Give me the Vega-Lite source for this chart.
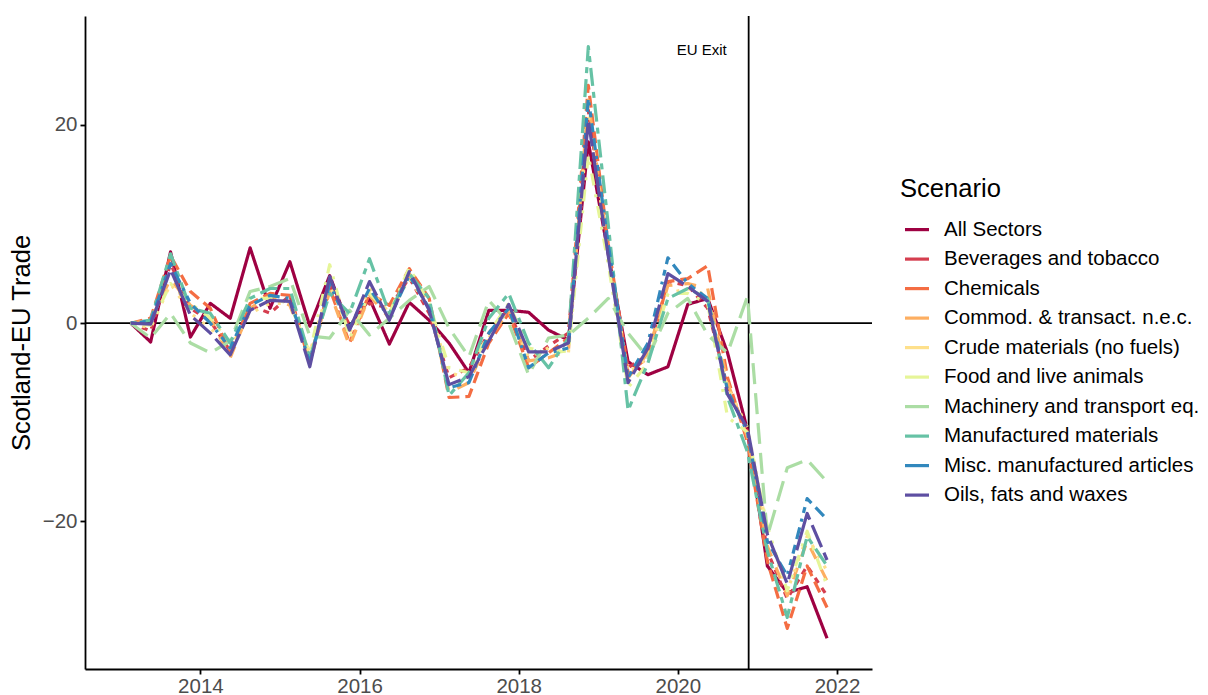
{
 "$schema": "https://vega.github.io/schema/vega-lite/v6.json",
 "width": 787,
 "height": 653,
 "autosize": "none",
 "padding": {"left": 85, "top": 16, "right": 336, "bottom": 26},
 "background": "white",
 "config": {"font": "Liberation Sans", "view": {"stroke": null},
  "axisX": {"grid": false, "labelFontSize": 20.5, "labelColor": "#4D4D4D", "labelPadding": 2, "domainColor": "black", "domainWidth": 1.8, "tickColor": "black", "tickWidth": 1.8, "tickSize": 5},
  "axisY": {"grid": false, "labelFontSize": 20.5, "labelColor": "#4D4D4D", "labelPadding": 3, "domainColor": "black", "domainWidth": 1.8, "tickColor": "black", "tickWidth": 1.8, "tickSize": 5, "titleFontSize": 25.6, "titleFontWeight": "normal", "titleColor": "black", "titlePadding": 8}
 },
 "datasets": {
  "trade": [
   {"t":2013.125,"s":"All Sectors","v":0},{"t":2013.375,"s":"All Sectors","v":-1.9},{"t":2013.625,"s":"All Sectors","v":7.2},{"t":2013.875,"s":"All Sectors","v":-1.4},{"t":2014.125,"s":"All Sectors","v":2.0},{"t":2014.375,"s":"All Sectors","v":0.5},{"t":2014.625,"s":"All Sectors","v":7.6},{"t":2014.875,"s":"All Sectors","v":1.5},{"t":2015.125,"s":"All Sectors","v":6.2},{"t":2015.375,"s":"All Sectors","v":-0.3},{"t":2015.625,"s":"All Sectors","v":4.8},{"t":2015.875,"s":"All Sectors","v":-0.5},{"t":2016.125,"s":"All Sectors","v":2.5},{"t":2016.375,"s":"All Sectors","v":-2.1},{"t":2016.625,"s":"All Sectors","v":2.1},{"t":2016.875,"s":"All Sectors","v":0.3},{"t":2017.125,"s":"All Sectors","v":-2.0},{"t":2017.375,"s":"All Sectors","v":-5.0},{"t":2017.625,"s":"All Sectors","v":1.3},{"t":2017.875,"s":"All Sectors","v":1.3},{"t":2018.125,"s":"All Sectors","v":1.1},{"t":2018.375,"s":"All Sectors","v":-0.7},{"t":2018.625,"s":"All Sectors","v":-1.7},{"t":2018.875,"s":"All Sectors","v":18.3},{"t":2019.125,"s":"All Sectors","v":7.0},{"t":2019.375,"s":"All Sectors","v":-3.9},{"t":2019.625,"s":"All Sectors","v":-5.2},{"t":2019.875,"s":"All Sectors","v":-4.4},{"t":2020.125,"s":"All Sectors","v":1.9},{"t":2020.375,"s":"All Sectors","v":2.5},{"t":2020.625,"s":"All Sectors","v":-3.0},{"t":2020.875,"s":"All Sectors","v":-10.8},{"t":2021.125,"s":"All Sectors","v":-24.5},{"t":2021.375,"s":"All Sectors","v":-27.2},{"t":2021.625,"s":"All Sectors","v":-26.6},{"t":2021.875,"s":"All Sectors","v":-31.8},
   {"t":2013.125,"s":"Beverages and tobacco","v":0},{"t":2013.375,"s":"Beverages and tobacco","v":-0.8},{"t":2013.625,"s":"Beverages and tobacco","v":6.0},{"t":2013.875,"s":"Beverages and tobacco","v":1.5},{"t":2014.125,"s":"Beverages and tobacco","v":0.2},{"t":2014.375,"s":"Beverages and tobacco","v":-2.8},{"t":2014.625,"s":"Beverages and tobacco","v":1.8},{"t":2014.875,"s":"Beverages and tobacco","v":1.0},{"t":2015.125,"s":"Beverages and tobacco","v":2.8},{"t":2015.375,"s":"Beverages and tobacco","v":-3.8},{"t":2015.625,"s":"Beverages and tobacco","v":3.8},{"t":2015.875,"s":"Beverages and tobacco","v":-0.2},{"t":2016.125,"s":"Beverages and tobacco","v":2.0},{"t":2016.375,"s":"Beverages and tobacco","v":1.5},{"t":2016.625,"s":"Beverages and tobacco","v":4.6},{"t":2016.875,"s":"Beverages and tobacco","v":1.0},{"t":2017.125,"s":"Beverages and tobacco","v":-5.5},{"t":2017.375,"s":"Beverages and tobacco","v":-4.5},{"t":2017.625,"s":"Beverages and tobacco","v":-1.0},{"t":2017.875,"s":"Beverages and tobacco","v":1.5},{"t":2018.125,"s":"Beverages and tobacco","v":-3.8},{"t":2018.375,"s":"Beverages and tobacco","v":-2.3},{"t":2018.625,"s":"Beverages and tobacco","v":-1.0},{"t":2018.875,"s":"Beverages and tobacco","v":21.5},{"t":2019.125,"s":"Beverages and tobacco","v":7.5},{"t":2019.375,"s":"Beverages and tobacco","v":-4.5},{"t":2019.625,"s":"Beverages and tobacco","v":-3.2},{"t":2019.875,"s":"Beverages and tobacco","v":4.2},{"t":2020.125,"s":"Beverages and tobacco","v":3.8},{"t":2020.375,"s":"Beverages and tobacco","v":1.5},{"t":2020.625,"s":"Beverages and tobacco","v":-6.5},{"t":2020.875,"s":"Beverages and tobacco","v":-11.0},{"t":2021.125,"s":"Beverages and tobacco","v":-23.0},{"t":2021.375,"s":"Beverages and tobacco","v":-27.8},{"t":2021.625,"s":"Beverages and tobacco","v":-24.5},{"t":2021.875,"s":"Beverages and tobacco","v":-27.5},
   {"t":2013.125,"s":"Chemicals","v":0},{"t":2013.375,"s":"Chemicals","v":0.5},{"t":2013.625,"s":"Chemicals","v":6.8},{"t":2013.875,"s":"Chemicals","v":3.2},{"t":2014.125,"s":"Chemicals","v":1.5},{"t":2014.375,"s":"Chemicals","v":-3.0},{"t":2014.625,"s":"Chemicals","v":2.0},{"t":2014.875,"s":"Chemicals","v":3.0},{"t":2015.125,"s":"Chemicals","v":2.8},{"t":2015.375,"s":"Chemicals","v":-4.0},{"t":2015.625,"s":"Chemicals","v":3.5},{"t":2015.875,"s":"Chemicals","v":-2.0},{"t":2016.125,"s":"Chemicals","v":3.0},{"t":2016.375,"s":"Chemicals","v":1.8},{"t":2016.625,"s":"Chemicals","v":5.5},{"t":2016.875,"s":"Chemicals","v":2.5},{"t":2017.125,"s":"Chemicals","v":-7.5},{"t":2017.375,"s":"Chemicals","v":-7.4},{"t":2017.625,"s":"Chemicals","v":-2.0},{"t":2017.875,"s":"Chemicals","v":1.0},{"t":2018.125,"s":"Chemicals","v":-4.5},{"t":2018.375,"s":"Chemicals","v":-3.0},{"t":2018.625,"s":"Chemicals","v":-1.5},{"t":2018.875,"s":"Chemicals","v":24.0},{"t":2019.125,"s":"Chemicals","v":8.0},{"t":2019.375,"s":"Chemicals","v":-5.0},{"t":2019.625,"s":"Chemicals","v":-3.5},{"t":2019.875,"s":"Chemicals","v":4.2},{"t":2020.125,"s":"Chemicals","v":4.5},{"t":2020.375,"s":"Chemicals","v":5.8},{"t":2020.625,"s":"Chemicals","v":-5.5},{"t":2020.875,"s":"Chemicals","v":-12.0},{"t":2021.125,"s":"Chemicals","v":-24.0},{"t":2021.375,"s":"Chemicals","v":-30.8},{"t":2021.625,"s":"Chemicals","v":-24.5},{"t":2021.875,"s":"Chemicals","v":-28.7},
   {"t":2013.125,"s":"Commod. & transact. n.e.c.","v":0},{"t":2013.375,"s":"Commod. & transact. n.e.c.","v":0.3},{"t":2013.625,"s":"Commod. & transact. n.e.c.","v":4.5},{"t":2013.875,"s":"Commod. & transact. n.e.c.","v":1.8},{"t":2014.125,"s":"Commod. & transact. n.e.c.","v":0.5},{"t":2014.375,"s":"Commod. & transact. n.e.c.","v":-3.5},{"t":2014.625,"s":"Commod. & transact. n.e.c.","v":1.5},{"t":2014.875,"s":"Commod. & transact. n.e.c.","v":2.8},{"t":2015.125,"s":"Commod. & transact. n.e.c.","v":1.8},{"t":2015.375,"s":"Commod. & transact. n.e.c.","v":-3.5},{"t":2015.625,"s":"Commod. & transact. n.e.c.","v":3.2},{"t":2015.875,"s":"Commod. & transact. n.e.c.","v":-2.3},{"t":2016.125,"s":"Commod. & transact. n.e.c.","v":2.8},{"t":2016.375,"s":"Commod. & transact. n.e.c.","v":0.5},{"t":2016.625,"s":"Commod. & transact. n.e.c.","v":5.0},{"t":2016.875,"s":"Commod. & transact. n.e.c.","v":1.8},{"t":2017.125,"s":"Commod. & transact. n.e.c.","v":-7.0},{"t":2017.375,"s":"Commod. & transact. n.e.c.","v":-6.0},{"t":2017.625,"s":"Commod. & transact. n.e.c.","v":-1.5},{"t":2017.875,"s":"Commod. & transact. n.e.c.","v":1.2},{"t":2018.125,"s":"Commod. & transact. n.e.c.","v":-3.8},{"t":2018.375,"s":"Commod. & transact. n.e.c.","v":-3.5},{"t":2018.625,"s":"Commod. & transact. n.e.c.","v":-2.8},{"t":2018.875,"s":"Commod. & transact. n.e.c.","v":22.5},{"t":2019.125,"s":"Commod. & transact. n.e.c.","v":7.0},{"t":2019.375,"s":"Commod. & transact. n.e.c.","v":-5.5},{"t":2019.625,"s":"Commod. & transact. n.e.c.","v":-3.0},{"t":2019.875,"s":"Commod. & transact. n.e.c.","v":3.8},{"t":2020.125,"s":"Commod. & transact. n.e.c.","v":4.0},{"t":2020.375,"s":"Commod. & transact. n.e.c.","v":3.5},{"t":2020.625,"s":"Commod. & transact. n.e.c.","v":-6.0},{"t":2020.875,"s":"Commod. & transact. n.e.c.","v":-11.5},{"t":2021.125,"s":"Commod. & transact. n.e.c.","v":-22.5},{"t":2021.375,"s":"Commod. & transact. n.e.c.","v":-27.5},{"t":2021.625,"s":"Commod. & transact. n.e.c.","v":-22.0},{"t":2021.875,"s":"Commod. & transact. n.e.c.","v":-26.0},
   {"t":2013.125,"s":"Crude materials (no fuels)","v":0},{"t":2013.375,"s":"Crude materials (no fuels)","v":-0.5},{"t":2013.625,"s":"Crude materials (no fuels)","v":4.0},{"t":2013.875,"s":"Crude materials (no fuels)","v":1.0},{"t":2014.125,"s":"Crude materials (no fuels)","v":-0.5},{"t":2014.375,"s":"Crude materials (no fuels)","v":-2.5},{"t":2014.625,"s":"Crude materials (no fuels)","v":1.0},{"t":2014.875,"s":"Crude materials (no fuels)","v":2.0},{"t":2015.125,"s":"Crude materials (no fuels)","v":2.0},{"t":2015.375,"s":"Crude materials (no fuels)","v":-3.0},{"t":2015.625,"s":"Crude materials (no fuels)","v":4.0},{"t":2015.875,"s":"Crude materials (no fuels)","v":-1.0},{"t":2016.125,"s":"Crude materials (no fuels)","v":3.5},{"t":2016.375,"s":"Crude materials (no fuels)","v":1.0},{"t":2016.625,"s":"Crude materials (no fuels)","v":4.5},{"t":2016.875,"s":"Crude materials (no fuels)","v":1.5},{"t":2017.125,"s":"Crude materials (no fuels)","v":-5.0},{"t":2017.375,"s":"Crude materials (no fuels)","v":-5.5},{"t":2017.625,"s":"Crude materials (no fuels)","v":-1.5},{"t":2017.875,"s":"Crude materials (no fuels)","v":1.5},{"t":2018.125,"s":"Crude materials (no fuels)","v":-3.5},{"t":2018.375,"s":"Crude materials (no fuels)","v":-2.5},{"t":2018.625,"s":"Crude materials (no fuels)","v":-3.0},{"t":2018.875,"s":"Crude materials (no fuels)","v":21.0},{"t":2019.125,"s":"Crude materials (no fuels)","v":7.0},{"t":2019.375,"s":"Crude materials (no fuels)","v":-5.0},{"t":2019.625,"s":"Crude materials (no fuels)","v":-3.5},{"t":2019.875,"s":"Crude materials (no fuels)","v":3.0},{"t":2020.125,"s":"Crude materials (no fuels)","v":3.5},{"t":2020.375,"s":"Crude materials (no fuels)","v":2.8},{"t":2020.625,"s":"Crude materials (no fuels)","v":-6.5},{"t":2020.875,"s":"Crude materials (no fuels)","v":-10.5},{"t":2021.125,"s":"Crude materials (no fuels)","v":-21.0},{"t":2021.375,"s":"Crude materials (no fuels)","v":-27.0},{"t":2021.625,"s":"Crude materials (no fuels)","v":-21.5},{"t":2021.875,"s":"Crude materials (no fuels)","v":-25.0},
   {"t":2013.125,"s":"Food and live animals","v":0},{"t":2013.375,"s":"Food and live animals","v":-0.2},{"t":2013.625,"s":"Food and live animals","v":4.0},{"t":2013.875,"s":"Food and live animals","v":2.0},{"t":2014.125,"s":"Food and live animals","v":0.5},{"t":2014.375,"s":"Food and live animals","v":-2.0},{"t":2014.625,"s":"Food and live animals","v":2.5},{"t":2014.875,"s":"Food and live animals","v":2.5},{"t":2015.125,"s":"Food and live animals","v":2.0},{"t":2015.375,"s":"Food and live animals","v":-3.0},{"t":2015.625,"s":"Food and live animals","v":5.9},{"t":2015.875,"s":"Food and live animals","v":-1.5},{"t":2016.125,"s":"Food and live animals","v":3.0},{"t":2016.375,"s":"Food and live animals","v":1.0},{"t":2016.625,"s":"Food and live animals","v":5.6},{"t":2016.875,"s":"Food and live animals","v":2.0},{"t":2017.125,"s":"Food and live animals","v":-4.5},{"t":2017.375,"s":"Food and live animals","v":-5.0},{"t":2017.625,"s":"Food and live animals","v":-1.0},{"t":2017.875,"s":"Food and live animals","v":2.0},{"t":2018.125,"s":"Food and live animals","v":-2.5},{"t":2018.375,"s":"Food and live animals","v":-3.0},{"t":2018.625,"s":"Food and live animals","v":-2.8},{"t":2018.875,"s":"Food and live animals","v":17.0},{"t":2019.125,"s":"Food and live animals","v":6.0},{"t":2019.375,"s":"Food and live animals","v":-6.5},{"t":2019.625,"s":"Food and live animals","v":-4.0},{"t":2019.875,"s":"Food and live animals","v":3.0},{"t":2020.125,"s":"Food and live animals","v":3.0},{"t":2020.375,"s":"Food and live animals","v":2.0},{"t":2020.625,"s":"Food and live animals","v":-9.5},{"t":2020.875,"s":"Food and live animals","v":-11.0},{"t":2021.125,"s":"Food and live animals","v":-20.5},{"t":2021.375,"s":"Food and live animals","v":-27.0},{"t":2021.625,"s":"Food and live animals","v":-21.0},{"t":2021.875,"s":"Food and live animals","v":-26.5},
   {"t":2013.125,"s":"Machinery and transport eq.","v":0},{"t":2013.375,"s":"Machinery and transport eq.","v":-1.5},{"t":2013.625,"s":"Machinery and transport eq.","v":1.0},{"t":2013.875,"s":"Machinery and transport eq.","v":-2.0},{"t":2014.125,"s":"Machinery and transport eq.","v":-3.0},{"t":2014.375,"s":"Machinery and transport eq.","v":-1.8},{"t":2014.625,"s":"Machinery and transport eq.","v":3.2},{"t":2014.875,"s":"Machinery and transport eq.","v":3.7},{"t":2015.125,"s":"Machinery and transport eq.","v":4.5},{"t":2015.375,"s":"Machinery and transport eq.","v":-1.3},{"t":2015.625,"s":"Machinery and transport eq.","v":-1.5},{"t":2015.875,"s":"Machinery and transport eq.","v":1.3},{"t":2016.125,"s":"Machinery and transport eq.","v":-1.2},{"t":2016.375,"s":"Machinery and transport eq.","v":0.5},{"t":2016.625,"s":"Machinery and transport eq.","v":2.3},{"t":2016.875,"s":"Machinery and transport eq.","v":3.7},{"t":2017.125,"s":"Machinery and transport eq.","v":-0.5},{"t":2017.375,"s":"Machinery and transport eq.","v":-3.4},{"t":2017.625,"s":"Machinery and transport eq.","v":2.3},{"t":2017.875,"s":"Machinery and transport eq.","v":0.0},{"t":2018.125,"s":"Machinery and transport eq.","v":-5.2},{"t":2018.375,"s":"Machinery and transport eq.","v":-1.5},{"t":2018.625,"s":"Machinery and transport eq.","v":-1.2},{"t":2018.875,"s":"Machinery and transport eq.","v":0.5},{"t":2019.125,"s":"Machinery and transport eq.","v":2.5},{"t":2019.375,"s":"Machinery and transport eq.","v":-1.0},{"t":2019.625,"s":"Machinery and transport eq.","v":-3.5},{"t":2019.875,"s":"Machinery and transport eq.","v":1.0},{"t":2020.125,"s":"Machinery and transport eq.","v":2.5},{"t":2020.375,"s":"Machinery and transport eq.","v":-1.2},{"t":2020.625,"s":"Machinery and transport eq.","v":-3.0},{"t":2020.875,"s":"Machinery and transport eq.","v":2.7},{"t":2021.125,"s":"Machinery and transport eq.","v":-21.5},{"t":2021.375,"s":"Machinery and transport eq.","v":-14.6},{"t":2021.625,"s":"Machinery and transport eq.","v":-13.8},{"t":2021.875,"s":"Machinery and transport eq.","v":-16.0},
   {"t":2013.125,"s":"Manufactured materials","v":0},{"t":2013.375,"s":"Manufactured materials","v":0.3},{"t":2013.625,"s":"Manufactured materials","v":7.0},{"t":2013.875,"s":"Manufactured materials","v":1.5},{"t":2014.125,"s":"Manufactured materials","v":1.0},{"t":2014.375,"s":"Manufactured materials","v":-2.0},{"t":2014.625,"s":"Manufactured materials","v":2.5},{"t":2014.875,"s":"Manufactured materials","v":3.5},{"t":2015.125,"s":"Manufactured materials","v":3.5},{"t":2015.375,"s":"Manufactured materials","v":-3.5},{"t":2015.625,"s":"Manufactured materials","v":3.0},{"t":2015.875,"s":"Manufactured materials","v":1.0},{"t":2016.125,"s":"Manufactured materials","v":6.5},{"t":2016.375,"s":"Manufactured materials","v":1.0},{"t":2016.625,"s":"Manufactured materials","v":5.0},{"t":2016.875,"s":"Manufactured materials","v":2.5},{"t":2017.125,"s":"Manufactured materials","v":-7.3},{"t":2017.375,"s":"Manufactured materials","v":-5.0},{"t":2017.625,"s":"Manufactured materials","v":0.5},{"t":2017.875,"s":"Manufactured materials","v":3.0},{"t":2018.125,"s":"Manufactured materials","v":-2.0},{"t":2018.375,"s":"Manufactured materials","v":-4.5},{"t":2018.625,"s":"Manufactured materials","v":-1.5},{"t":2018.875,"s":"Manufactured materials","v":27.9},{"t":2019.125,"s":"Manufactured materials","v":10.0},{"t":2019.375,"s":"Manufactured materials","v":-8.8},{"t":2019.625,"s":"Manufactured materials","v":-4.0},{"t":2019.875,"s":"Manufactured materials","v":2.5},{"t":2020.125,"s":"Manufactured materials","v":3.5},{"t":2020.375,"s":"Manufactured materials","v":2.5},{"t":2020.625,"s":"Manufactured materials","v":-7.5},{"t":2020.875,"s":"Manufactured materials","v":-13.0},{"t":2021.125,"s":"Manufactured materials","v":-23.0},{"t":2021.375,"s":"Manufactured materials","v":-29.7},{"t":2021.625,"s":"Manufactured materials","v":-21.5},{"t":2021.875,"s":"Manufactured materials","v":-24.5},
   {"t":2013.125,"s":"Misc. manufactured articles","v":0},{"t":2013.375,"s":"Misc. manufactured articles","v":0.2},{"t":2013.625,"s":"Misc. manufactured articles","v":6.0},{"t":2013.875,"s":"Misc. manufactured articles","v":2.0},{"t":2014.125,"s":"Misc. manufactured articles","v":0.0},{"t":2014.375,"s":"Misc. manufactured articles","v":-2.5},{"t":2014.625,"s":"Misc. manufactured articles","v":1.8},{"t":2014.875,"s":"Misc. manufactured articles","v":2.8},{"t":2015.125,"s":"Misc. manufactured articles","v":2.5},{"t":2015.375,"s":"Misc. manufactured articles","v":-4.0},{"t":2015.625,"s":"Misc. manufactured articles","v":4.0},{"t":2015.875,"s":"Misc. manufactured articles","v":-0.5},{"t":2016.125,"s":"Misc. manufactured articles","v":3.5},{"t":2016.375,"s":"Misc. manufactured articles","v":0.5},{"t":2016.625,"s":"Misc. manufactured articles","v":4.8},{"t":2016.875,"s":"Misc. manufactured articles","v":1.5},{"t":2017.125,"s":"Misc. manufactured articles","v":-6.5},{"t":2017.375,"s":"Misc. manufactured articles","v":-6.0},{"t":2017.625,"s":"Misc. manufactured articles","v":-1.0},{"t":2017.875,"s":"Misc. manufactured articles","v":1.5},{"t":2018.125,"s":"Misc. manufactured articles","v":-4.5},{"t":2018.375,"s":"Misc. manufactured articles","v":-3.0},{"t":2018.625,"s":"Misc. manufactured articles","v":-2.5},{"t":2018.875,"s":"Misc. manufactured articles","v":22.7},{"t":2019.125,"s":"Misc. manufactured articles","v":8.0},{"t":2019.375,"s":"Misc. manufactured articles","v":-5.5},{"t":2019.625,"s":"Misc. manufactured articles","v":-2.0},{"t":2019.875,"s":"Misc. manufactured articles","v":6.6},{"t":2020.125,"s":"Misc. manufactured articles","v":4.0},{"t":2020.375,"s":"Misc. manufactured articles","v":2.5},{"t":2020.625,"s":"Misc. manufactured articles","v":-6.8},{"t":2020.875,"s":"Misc. manufactured articles","v":-11.0},{"t":2021.125,"s":"Misc. manufactured articles","v":-22.0},{"t":2021.375,"s":"Misc. manufactured articles","v":-25.5},{"t":2021.625,"s":"Misc. manufactured articles","v":-17.7},{"t":2021.875,"s":"Misc. manufactured articles","v":-19.8},
   {"t":2013.125,"s":"Oils, fats and waxes","v":0},{"t":2013.375,"s":"Oils, fats and waxes","v":-0.1},{"t":2013.625,"s":"Oils, fats and waxes","v":5.4},{"t":2013.875,"s":"Oils, fats and waxes","v":0.8},{"t":2014.125,"s":"Oils, fats and waxes","v":-1.0},{"t":2014.375,"s":"Oils, fats and waxes","v":-3.2},{"t":2014.625,"s":"Oils, fats and waxes","v":1.3},{"t":2014.875,"s":"Oils, fats and waxes","v":2.3},{"t":2015.125,"s":"Oils, fats and waxes","v":2.2},{"t":2015.375,"s":"Oils, fats and waxes","v":-4.4},{"t":2015.625,"s":"Oils, fats and waxes","v":4.7},{"t":2015.875,"s":"Oils, fats and waxes","v":-0.7},{"t":2016.125,"s":"Oils, fats and waxes","v":4.2},{"t":2016.375,"s":"Oils, fats and waxes","v":0.3},{"t":2016.625,"s":"Oils, fats and waxes","v":5.2},{"t":2016.875,"s":"Oils, fats and waxes","v":1.3},{"t":2017.125,"s":"Oils, fats and waxes","v":-6.2},{"t":2017.375,"s":"Oils, fats and waxes","v":-5.4},{"t":2017.625,"s":"Oils, fats and waxes","v":-1.8},{"t":2017.875,"s":"Oils, fats and waxes","v":1.9},{"t":2018.125,"s":"Oils, fats and waxes","v":-2.9},{"t":2018.375,"s":"Oils, fats and waxes","v":-2.9},{"t":2018.625,"s":"Oils, fats and waxes","v":-2.0},{"t":2018.875,"s":"Oils, fats and waxes","v":20.5},{"t":2019.125,"s":"Oils, fats and waxes","v":6.8},{"t":2019.375,"s":"Oils, fats and waxes","v":-6.0},{"t":2019.625,"s":"Oils, fats and waxes","v":-2.5},{"t":2019.875,"s":"Oils, fats and waxes","v":5.0},{"t":2020.125,"s":"Oils, fats and waxes","v":3.7},{"t":2020.375,"s":"Oils, fats and waxes","v":2.2},{"t":2020.625,"s":"Oils, fats and waxes","v":-7.2},{"t":2020.875,"s":"Oils, fats and waxes","v":-10.6},{"t":2021.125,"s":"Oils, fats and waxes","v":-21.3},{"t":2021.375,"s":"Oils, fats and waxes","v":-26.3},{"t":2021.625,"s":"Oils, fats and waxes","v":-19.2},{"t":2021.875,"s":"Oils, fats and waxes","v":-23.9}
  ]
 },
 "layer": [
  {
   "data": {"values": [{"v": 0}]},
   "mark": {"type": "rule", "color": "black", "strokeWidth": 1.8},
   "encoding": {"y": {"field": "v", "type": "quantitative", "title": "Scotland-EU Trade"}}
  },
  {
   "data": {"values": [{"t": 2020.89}]},
   "mark": {"type": "rule", "color": "black", "strokeWidth": 1.8},
   "encoding": {"x": {"field": "t", "type": "quantitative", "title": null}}
  },
  {
   "data": {"name": "trade"},
   "mark": {"type": "line", "strokeWidth": 3.2, "strokeCap": "butt", "strokeJoin": "round"},
   "encoding": {
    "x": {"field": "t", "type": "quantitative", "title": null,
     "scale": {"domain": [2012.55, 2022.44], "nice": false, "zero": false},
     "axis": {"values": [2014, 2016, 2018, 2020, 2022], "format": "d"}},
    "y": {"field": "v", "type": "quantitative", "title": "Scotland-EU Trade",
     "scale": {"domain": [-34.9, 31.0], "nice": false, "zero": false},
     "axis": {"values": [-20, 0, 20], "format": "d"}},
    "color": {"field": "s", "type": "nominal",
     "scale": {"domain": ["All Sectors", "Beverages and tobacco", "Chemicals", "Commod. & transact. n.e.c.", "Crude materials (no fuels)", "Food and live animals", "Machinery and transport eq.", "Manufactured materials", "Misc. manufactured articles", "Oils, fats and waxes"],
      "range": ["#9E0142", "#D53E4F", "#F46D43", "#FDAE61", "#FEE08B", "#E6F598", "#ABDDA4", "#66C2A5", "#3288BD", "#5E4FA2"]},
     "legend": {"title": "Scenario", "orient": "none", "legendX": 815, "legendY": 161,
      "titleFontSize": 25.6, "titleFontWeight": "normal", "titleColor": "black", "titlePadding": 13,
      "labelFontSize": 20.5, "labelColor": "black", "labelOffset": 13, "labelLimit": 0,
      "symbolType": "stroke", "symbolSize": 576, "symbolStrokeWidth": 3.2, "symbolOffset": 3,
      "rowPadding": 4.5, "padding": 0}},
    "strokeDash": {
     "condition": [
      {"test": "datum.s === 'Beverages and tobacco'", "value": [6, 6]},
      {"test": "datum.s === 'Chemicals'", "value": [12, 6]},
      {"test": "datum.s === 'Commod. & transact. n.e.c.'", "value": [12, 12]},
      {"test": "datum.s === 'Crude materials (no fuels)'", "value": [3, 9]},
      {"test": "datum.s === 'Food and live animals'", "value": [3, 9, 12, 9]},
      {"test": "datum.s === 'Machinery and transport eq.'", "value": [21, 9]},
      {"test": "datum.s === 'Manufactured materials'", "value": [6, 6, 18, 6]},
      {"test": "datum.s === 'Misc. manufactured articles'", "value": [3, 6, 6, 6, 9, 6, 12, 6]},
      {"test": "datum.s === 'Oils, fats and waxes'", "value": [45, 6, 24, 6]}
     ],
     "value": [1, 0]}
   }
  },
  {
   "data": {"values": [{"t": 2020.3, "v": 27.6, "label": "EU Exit"}]},
   "mark": {"type": "text", "fontSize": 15, "color": "black", "align": "center", "baseline": "middle"},
   "encoding": {
    "x": {"field": "t", "type": "quantitative", "title": null},
    "y": {"field": "v", "type": "quantitative", "title": "Scotland-EU Trade"},
    "text": {"field": "label"}
   }
  }
 ]
}
